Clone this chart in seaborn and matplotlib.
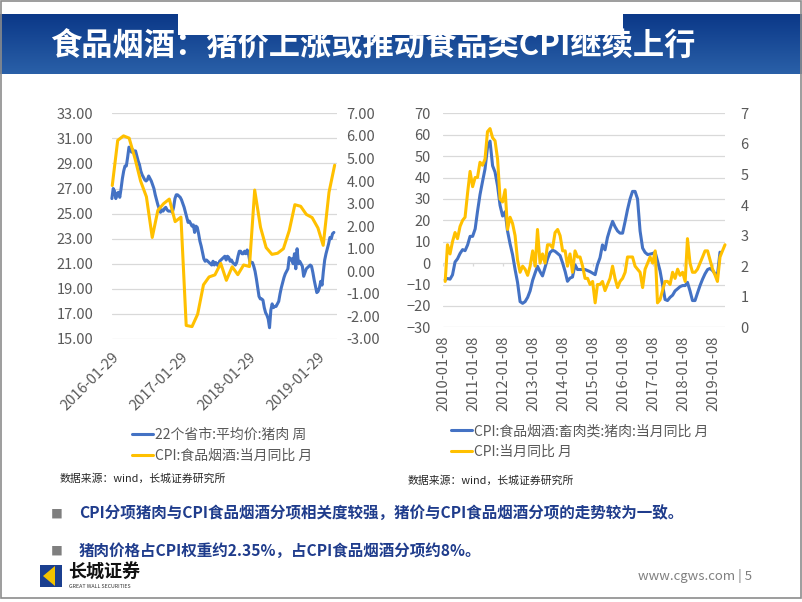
import numpy as np
import pandas as pd
import matplotlib
matplotlib.use('Agg')
import matplotlib.pyplot as plt
from matplotlib.patches import Rectangle, Polygon
from matplotlib.colors import LinearSegmentedColormap
import seaborn as sns

# ---------------- data ----------------
pork_price_weekly = [
    26.2, 27.0, 26.8, 26.2, 26.6, 26.7, 26.3, 27.0, 27.8, 28.4,
    28.8, 28.8, 29.5, 30.3, 30.1, 29.9, 30.1, 29.8, 30.0, 29.6,
    29.2, 28.9, 28.4, 28.1, 27.9, 27.7, 27.6, 27.7, 28.0, 27.8,
    27.6, 27.3, 27.0, 26.5, 26.1, 25.7, 25.4, 25.1, 25.3, 25.2,
    25.4, 25.5, 25.3, 25.2, 25.2, 25.2, 25.1, 25.5, 26.2, 26.5,
    26.5, 26.4, 26.3, 26.1, 25.8, 25.5, 25.1, 24.7, 24.3, 24.4,
    24.2, 24.0, 24.1, 23.5, 24.0, 23.9, 23.4, 22.8, 22.4, 21.9,
    21.4, 21.2, 21.3, 21.2, 21.1, 21.0, 20.9, 21.2, 20.9, 21.1,
    21.0, 20.8, 21.2, 21.3, 21.4, 21.5, 21.6, 21.3, 21.6, 21.5,
    21.2, 21.3, 21.1, 21.0, 20.9, 21.1, 21.6, 22.0, 22.0, 21.8,
    21.8, 22.0, 21.8, 22.1, 21.8, 21.2, 21.1, 21.1, 20.8, 20.4,
    19.8, 19.1, 18.4, 18.2, 18.2, 18.1, 17.5, 17.1, 16.9, 16.6,
    15.9, 17.3, 17.8, 17.5, 17.6, 17.6, 17.8, 18.0, 18.6, 19.1,
    19.5, 19.9, 20.2, 20.4, 20.6, 21.5, 21.3, 21.4, 21.0, 21.8,
    20.6, 22.2, 21.0, 21.2, 21.0, 20.8, 20.0, 20.3, 20.6, 20.7,
    20.8, 20.9, 20.8, 20.3, 19.7, 19.2, 18.7, 18.8, 19.1, 19.6,
    19.3, 20.4, 21.3, 21.8, 22.2, 22.6, 23.1, 23.0, 23.4, 23.5,
]
cpi_food_monthly = [
    3.8, 5.8, 6.0, 5.9, 5.0, 4.0, 3.3, 1.5, 2.7, 3.0, 3.2, 2.2,
    2.4, -2.4, -2.45, -1.9, -0.6, -0.25, -0.16, 0.35, -0.4, 0.2, -0.15, 0.28,
    0.21, 3.6, 1.95, 1.05, 0.75, 0.8, 1.0, 1.8, 2.95, 2.88, 2.52, 2.38,
    1.92, 1.15, 3.5, 4.7,
]
cpi_pork_yoy = [
    -7.8, -7.2, -7.5, -5.5, 0.5, 2.0, 4.5, 6.3, 5.8, 8.5,
    12.5, 12.5, 16.0, 24.0, 32.0, 38.0, 44.0, 54.0, 57.0, 45.5,
    42.5, 36.0, 27.0, 22.0, 24.0, 15.0, 9.0, 4.0, -3.0, -9.0,
    -18.0, -18.8, -18.0, -16.0, -13.0, -8.0, -4.5, -1.5, -4.0, -6.0,
    -2.0, 2.0, 5.0, 6.0, 5.5, 4.5, 3.5, 0.0, -4.0, -8.5,
    -7.0, -6.5, -0.8, -3.0, -3.0, -3.0, -3.0, -3.5, -4.0, -4.7,
    -5.4, -0.8, 2.5, 8.5, 6.2, 12.0, 16.0, 19.5, 17.0, 15.0,
    14.0, 14.0, 19.5, 25.0, 30.0, 33.5, 33.5, 30.0, 15.0, 7.0,
    5.0, 4.0, 4.2, 4.5, 5.0, 1.0, -3.6, -10.0, -17.0, -17.5,
    -16.0, -15.0, -13.0, -12.0, -11.0, -10.5, -10.5, -9.0, -13.0, -17.5,
    -17.5, -14.0, -10.5, -7.5, -5.0, -3.0, -2.5, -3.5, -5.0, -5.5,
    5.1,
]
cpi_yoy = [
    1.5, 2.7, 2.4, 2.8, 3.1, 2.9, 3.3, 3.5, 3.6, 4.4, 5.1, 4.6,
    4.9, 4.9, 5.4, 5.3, 5.5, 6.4, 6.5, 6.2, 6.1, 5.5, 4.2, 4.1,
    4.5, 3.2, 3.6, 3.4, 3.0, 2.2, 1.8, 2.0, 1.9, 1.7, 2.0, 2.5,
    2.0, 3.2, 2.1, 2.4, 2.1, 2.7, 2.7, 2.6, 3.1, 3.2, 3.0, 2.5,
    2.5, 2.0, 2.4, 1.8, 2.5, 2.3, 2.3, 2.0, 1.6, 1.6, 1.4, 1.5,
    0.8, 1.4, 1.4, 1.5, 1.2, 1.4, 1.6, 2.0, 1.6, 1.3, 1.5, 1.6,
    1.8, 2.3, 2.3, 2.3, 2.0, 1.9, 1.8, 1.3, 1.9, 2.1, 2.3, 2.1,
    2.5, 0.8, 0.9, 1.2, 1.5, 1.5, 1.4, 1.8, 1.6, 1.9, 1.7, 1.8,
    1.5, 2.9, 2.1, 1.8, 1.8, 1.9, 2.1, 2.3, 2.5, 2.5, 2.2, 1.9,
    1.7, 1.5, 2.3, 2.5, 2.7,
]
left_xticks = ['2016-01-29', '2017-01-29', '2018-01-29', '2019-01-29']
right_xticks = ['2010-01-08', '2011-01-08', '2012-01-08', '2013-01-08', '2014-01-08',
                '2015-01-08', '2016-01-08', '2017-01-08', '2018-01-08', '2019-01-08']
left_y1_ticks = [15, 17, 19, 21, 23, 25, 27, 29, 31, 33]
left_y2_ticks = [-3, -2, -1, 0, 1, 2, 3, 4, 5, 6, 7]
right_y1_ticks = [-30, -20, -10, 0, 10, 20, 30, 40, 50, 60, 70]
right_y2_ticks = [0, 1, 2, 3, 4, 5, 6, 7]
legend_left = ['22个省市:平均价:猪肉 周', 'CPI:食品烟酒:当月同比 月']
legend_right = ['CPI:食品烟酒:畜肉类:猪肉:当月同比 月', 'CPI:当月同比 月']
title = '食品烟酒：猪价上涨或推动食品类CPI继续上行'
bullets = ['CPI分项猪肉与CPI食品烟酒分项相关度较强，猪价与CPI食品烟酒分项的走势较为一致。',
           '猪肉价格占CPI权重约2.35%，占CPI食品烟酒分项约8%。']
source = '数据来源：wind，长城证券研究所'

df_week = pd.DataFrame({'date': pd.date_range('2016-01-29', periods=len(pork_price_weekly), freq='7D'),
                        'v': pork_price_weekly})
df_food = pd.DataFrame({'date': pd.date_range('2016-01-31', periods=len(cpi_food_monthly), freq='ME'),
                        'v': cpi_food_monthly})
df_pork = pd.DataFrame({'date': pd.date_range('2010-01-31', periods=len(cpi_pork_yoy), freq='ME'),
                        'v': cpi_pork_yoy})
df_cpi = pd.DataFrame({'date': pd.date_range('2010-01-31', periods=len(cpi_yoy), freq='ME'),
                       'v': cpi_yoy})

# ---------------- style ----------------
sns.set_style('white')
plt.rcParams['font.family'] = ['Noto Sans CJK SC', 'DejaVu Sans']
BLUE = '#4472C4'
YELLOW = '#FFC000'
GRID = '#D9D9D9'
TXT = '#595959'
W, H = 802, 602

fig = plt.figure(figsize=(8.02, 6.02), dpi=100)

def fx(px):
    return px / W

def fy(py):
    return 1 - py / H

# ---------------- slide decoration ----------------
bg = fig.add_axes([0, fy(74), 1, 60 / H])
grad = np.linspace(0, 1, 100).reshape(-1, 1)
bg.imshow(grad, aspect='auto', cmap=LinearSegmentedColormap.from_list('band', ['#0B3888', '#2A60A8']),
          extent=[0, 1, 0, 1])
bg.set_axis_off()
fig.add_artist(Rectangle((fx(178), fy(35)), fx(623) - fx(178), 21 / H, transform=fig.transFigure,
                         facecolor='white', edgecolor='none', zorder=1))
fig.add_artist(Rectangle((fx(0.5), fy(598)), fx(800.5), 597.5 / H, transform=fig.transFigure,
                         facecolor='none', edgecolor='#8C8C8C', lw=1.2, zorder=1))
fig.text(fx(50), fy(47), title, color='white', fontsize=22.5, fontweight='bold', va='center', ha='left')

# ---------------- left chart ----------------
axL = fig.add_axes([fx(111.7), fy(339), (336.7 - 111.7) / W, (339 - 113.3) / H])
sns.lineplot(data=df_week, x='date', y='v', ax=axL, color=BLUE, lw=2.2, label=legend_left[0], legend=False)
axL2 = axL.twinx()
sns.lineplot(data=df_food, x='date', y='v', ax=axL2, color=YELLOW, lw=2.2, label=legend_left[1], legend=False)
axL.set_ylim(15, 33)
axL2.set_ylim(-3, 7)
axL.set_yticks(left_y1_ticks)
axL.set_yticklabels([f'{t:.2f}' for t in left_y1_ticks])
axL2.set_yticks(left_y2_ticks)
axL2.set_yticklabels([f'{t:.2f}' for t in left_y2_ticks])
axL.set_xlim(pd.Timestamp('2016-01-28'), pd.Timestamp('2019-05-11'))
axL.set_xticks(pd.to_datetime(left_xticks))
axL.set_xticklabels(left_xticks, rotation=45, ha='right', rotation_mode='anchor')
axL.grid(axis='y', color=GRID, lw=0.9)
axL.grid(axis='x', visible=False)
for a in (axL, axL2):
    for s in a.spines.values():
        s.set_visible(False)
    a.set_xlabel('')
    a.set_ylabel('')
axL.tick_params(axis='y', length=0, pad=13, labelsize=10.5, labelcolor=TXT)
axL2.tick_params(axis='y', length=0, pad=7, labelsize=10.5, labelcolor=TXT)
axL.tick_params(axis='x', length=0, pad=8, labelsize=10.5, labelcolor=TXT)
for ln in axL2.get_lines():
    ln.set_clip_on(False)
for ln in axL.get_lines():
    ln.set_clip_on(False)

hL = axL.get_lines()[:1] + axL2.get_lines()[:1]
fig.legend(hL, legend_left, loc='center', bbox_to_anchor=(fx(222), fy(445)), frameon=False,
           fontsize=10, handlelength=1.5, handletextpad=0.15, labelspacing=0.5, labelcolor=TXT)

# ---------------- right chart ----------------
axR = fig.add_axes([fx(443.3), fy(327.3), (725 - 443.3) / W, (327.3 - 113.3) / H])
sns.lineplot(data=df_pork, x='date', y='v', ax=axR, color=BLUE, lw=2.2, legend=False)
axR2 = axR.twinx()
sns.lineplot(data=df_cpi, x='date', y='v', ax=axR2, color=YELLOW, lw=2.2, legend=False)
axR.set_ylim(-30, 70)
axR2.set_ylim(0, 7)
axR.set_yticks(right_y1_ticks)
axR2.set_yticks(right_y2_ticks)
axR.set_xlim(pd.Timestamp('2010-01-08'), pd.Timestamp('2019-05-31'))
tick_dates = pd.to_datetime(right_xticks)
axR.set_xticks(tick_dates)
axR.set_xticklabels(right_xticks, rotation=90)
axR.grid(axis='y', color=GRID, lw=0.9)
axR.grid(axis='x', visible=False)
axR.vlines(tick_dates, -1.4, 0, color=GRID, lw=0.9, zorder=1)
for a in (axR, axR2):
    for s in a.spines.values():
        s.set_visible(False)
    a.set_xlabel('')
    a.set_ylabel('')
axR.tick_params(axis='y', length=0, pad=9, labelsize=10.5, labelcolor=TXT)
axR2.tick_params(axis='y', length=0, pad=11, labelsize=10.5, labelcolor=TXT)
axR.tick_params(axis='x', length=0, pad=6, labelsize=10.5, labelcolor=TXT)
for ln in axR.get_lines() + axR2.get_lines():
    ln.set_clip_on(False)

hR = axR.get_lines()[:1] + axR2.get_lines()[:1]
fig.legend(hR, legend_right, loc='center', bbox_to_anchor=(fx(580), fy(441.5)), frameon=False,
           fontsize=10, handlelength=1.5, handletextpad=0.15, labelspacing=0.5, labelcolor=TXT)

# ---------------- source notes ----------------
fig.text(fx(60), fy(479), source, fontsize=7.8, color='#262626', va='center', ha='left')
fig.text(fx(408), fy(481), source, fontsize=7.8, color='#262626', va='center', ha='left')

# ---------------- bullets ----------------
for yy, txt in zip([514, 551], bullets):
    fig.text(fx(51), fy(yy), '■', fontsize=8.5, color='#7F7F7F', va='center', ha='left')
    fig.text(fx(79), fy(yy), txt, fontsize=11.2, fontweight='bold', color='#1F3C8C', va='center', ha='left')

# ---------------- logo / footer ----------------
fig.add_artist(Rectangle((fx(40), fy(587)), 22 / W, 22 / H, transform=fig.transFigure,
                         facecolor='#1B3F8F', edgecolor='none', zorder=1))
fig.add_artist(Polygon([(fx(43), fy(576)), (fx(55), fy(566)), (fx(55), fy(586))], closed=True,
                       transform=fig.transFigure, facecolor='#F2C200', edgecolor='none', zorder=2))
fig.text(fx(68), fy(572), '长城证券', fontsize=13, fontweight='bold', color='#111111', va='center', ha='left')
fig.text(fx(69), fy(587), 'GREAT WALL SECURITIES', fontsize=3.8, color='#333333', va='center', ha='left')
fig.text(fx(752), fy(576), 'www.cgws.com | 5', fontsize=9.5, color='#7F7F7F', va='center', ha='right')

fig.savefig('out.png', dpi=100)
